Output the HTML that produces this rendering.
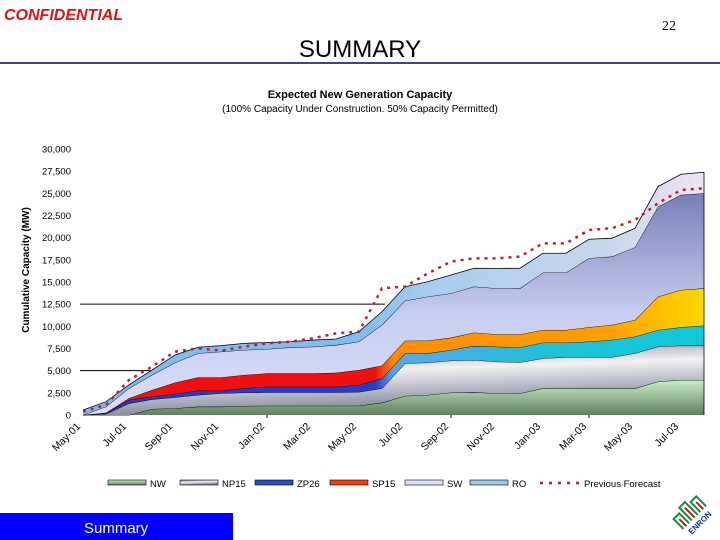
<!DOCTYPE html>
<html><head><meta charset="utf-8"><style>
body{margin:0;width:720px;height:540px;background:#fff;position:relative;overflow:hidden;font-family:"Liberation Sans",sans-serif}
</style></head><body>
<svg width="720" height="540" style="position:absolute;left:0;top:0">
<defs>
<linearGradient id="gNW" x1="0" y1="0" x2="0" y2="1"><stop offset="0" stop-color="#c8f0c8"/><stop offset="1" stop-color="#5f7f5f"/></linearGradient>
<linearGradient id="gNP" x1="0" y1="0" x2="0.3" y2="1"><stop offset="0" stop-color="#6a7088"/><stop offset="0.45" stop-color="#f2f2f2"/><stop offset="1" stop-color="#7a8098"/></linearGradient>
<linearGradient id="gZP" gradientUnits="userSpaceOnUse" x1="83" y1="0" x2="704" y2="0"><stop offset="0.47" stop-color="#2a3ac8"/><stop offset="0.5" stop-color="#58a8e8"/><stop offset="0.75" stop-color="#20c0d8"/><stop offset="1" stop-color="#10c8d8"/></linearGradient>
<linearGradient id="gSP" gradientUnits="userSpaceOnUse" x1="83" y1="0" x2="704" y2="0"><stop offset="0.47" stop-color="#f01010"/><stop offset="0.5" stop-color="#ff8c00"/><stop offset="0.85" stop-color="#ffa000"/><stop offset="1" stop-color="#ffd800"/></linearGradient>
<linearGradient id="gSW" x1="0" y1="0" x2="0" y2="1"><stop offset="0" stop-color="#7880b8"/><stop offset="0.55" stop-color="#c8cef0"/><stop offset="1" stop-color="#d8def8"/></linearGradient>
<linearGradient id="gRO" gradientUnits="userSpaceOnUse" x1="83" y1="0" x2="704" y2="0"><stop offset="0.45" stop-color="#80bcf0"/><stop offset="0.55" stop-color="#a8ccf0"/><stop offset="0.85" stop-color="#c8d8ec"/><stop offset="1" stop-color="#f0e4f4"/></linearGradient>
</defs>
<text x="4" y="20" fill="#e01010" font-size="16" font-weight="bold" font-style="italic">CONFIDENTIAL</text>
<text x="662" y="30" fill="#000" font-size="14" font-family="Liberation Serif">22</text>
<text x="360" y="57" text-anchor="middle" font-size="24">SUMMARY</text>
<rect x="0" y="62" width="720" height="2" fill="#40409a"/>
<text x="360" y="98" text-anchor="middle" font-size="11" font-weight="bold">Expected New Generation Capacity</text>
<text x="360" y="112" text-anchor="middle" font-size="10">(100% Capacity Under Construction. 50% Capacity Permitted)</text>
<text transform="translate(29,270) rotate(-90)" text-anchor="middle" font-size="10" font-weight="bold">Cumulative Capacity (MW)</text>
<g id="chart"></g>
<g id="legend"></g>
<rect x="0" y="513" width="233" height="27" fill="#0000ff"/>
<text x="84" y="533" fill="#fff" font-size="15">Summary</text>
<g transform="translate(692,512) rotate(-45)">
<path d="M-18,6 L-18,-8 L-10,-8 L-10,6 M-6,6 L-6,-12 L2,-12 L2,6 M6,6 L6,-8 L14,-8 L14,6" fill="none" stroke="#1c8a3a" stroke-width="2"/>
<path d="M-14,6 L-14,-4 M-2,6 L-2,-8 M10,6 L10,-4" fill="none" stroke="#c01818" stroke-width="2"/>
<text x="-2" y="16" text-anchor="middle" font-size="8" font-weight="bold" fill="#1030b0">ENRON</text>
</g>
</svg>
<script>
const months=["May-01","Jun-01","Jul-01","Aug-01","Sep-01","Oct-01","Nov-01","Dec-01","Jan-02","Feb-02","Mar-02","Apr-02","May-02","Jun-02","Jul-02","Aug-02","Sep-02","Oct-02","Nov-02","Dec-02","Jan-03","Feb-03","Mar-03","Apr-03","May-03","Jun-03","Jul-03","Aug-03"];
const yTicks=[0,2500,5000,7500,10000,12500,15000,17500,20000,22500,25000,27500,30000];
const seriesNames=["NW","NP15","ZP26","SP15","SW","RO"];
const nw=[0,0,0,680,750,940,940,1020,1050,1050,1050,1050,1050,1390,2140,2260,2520,2560,2440,2440,3010,3010,3010,3010,3010,3760,3950,3950];
const np15=[0,110,1320,1090,1240,1320,1500,1500,1500,1500,1500,1500,1540,1620,3680,3650,3610,3650,3570,3500,3380,3500,3500,3500,3950,3950,3870,3870];
const zp26=[0,75,380,300,380,490,300,490,640,640,640,640,790,1130,1130,1050,1200,1580,1690,1690,1770,1650,1770,1960,1880,1880,2070,2260];
const sp15=[0,75,190,750,1280,1500,1500,1500,1500,1500,1500,1580,1690,1430,1430,1430,1390,1500,1390,1470,1430,1430,1620,1690,1880,3760,4210,4210];
const sw=[0,680,1130,1690,2260,2710,2900,2820,2740,2930,3010,3120,3200,4590,4510,4960,5000,5190,5190,5190,6470,6470,7780,7710,8200,10150,10720,10720];
const ro=[560,560,380,560,860,680,680,750,750,640,750,680,1130,1500,1580,1690,2070,2070,2260,2260,2180,2180,2140,2070,2140,2260,2330,2370];
const forecast=[380,1130,3950,5450,7140,7520,7260,7710,8080,8270,8650,9210,9400,14290,14480,15980,17300,17670,17670,17860,19360,19360,20870,21060,22000,23880,25380,25570];
const NS="http://www.w3.org/2000/svg";
const X0=83,X1=704,Y0=415,Y1=149,VMAX=30000;
const xs=i=>X0+(X1-X0)*i/(months.length-1);
const ys=v=>Y0-(Y0-Y1)*v/VMAX;
const chart=document.getElementById('chart');
function mk(tag,attrs,parent){const e=document.createElementNS(NS,tag);for(const k in attrs)e.setAttribute(k,attrs[k]);(parent||chart).appendChild(e);return e;}
// y ticks
yTicks.forEach(v=>{
  const t=mk('text',{x:71,y:ys(v)+3.5,'text-anchor':'end','font-size':'9.5'});
  t.textContent=v.toLocaleString('en-US');
  
  
});
// partial gridlines
[5000,12500].forEach(v=>{
  const l=mk('line',{x1:80,x2:385,y1:ys(v),y2:ys(v),stroke:'#000','stroke-width':1});
  
  
});
// stacked areas
const stack=[nw,np15,zp26,sp15,sw,ro];
const fills=["url(#gNW)","url(#gNP)","url(#gZP)","url(#gSP)","url(#gSW)","url(#gRO)"];
let base=months.map(()=>0);
stack.forEach((s,k)=>{
  const top=base.map((b,i)=>b+s[i]);
  let d='M'+months.map((m,i)=>xs(i)+','+ys(top[i])).join(' L');
  for(let i=months.length-1;i>=0;i--)d+=' L'+xs(i)+','+ys(base[i]);
  d+=' Z';
  const p=mk('path',{d:d,fill:fills[k],stroke:'none'});
  
  
  const ln=mk('polyline',{points:months.map((m,i)=>xs(i)+','+ys(top[i])).join(' '),fill:'none',stroke:'#000','stroke-width':0.8});
  
  
  base=top;
});
// right edge
const re=mk('line',{x1:X1,x2:X1,y1:ys(base[base.length-1]),y2:Y0,stroke:'#000','stroke-width':0.8});


// forecast
const fl=mk('polyline',{points:forecast.map((v,i)=>xs(i)+','+ys(v)).join(' '),fill:'none',stroke:'#c0202a','stroke-width':2.5,'stroke-dasharray':'3,5'});


// axis ticks
[8,16,22].forEach(i=>{
  const t=mk('line',{x1:xs(i),x2:xs(i),y1:Y0,y2:Y0+3,stroke:'#000'});
  
  
});
// x labels
months.forEach((m,i)=>{
  if(i%2)return;
  const x=xs(i)-2,y=Y0+12;
  const t=mk('text',{x:x,y:y,'text-anchor':'end','font-size':'10.5',transform:`rotate(-45 ${x} ${y})`});
  t.textContent=m;
  
  
});
// legend
const lg=document.getElementById('legend');
const legFills=["url(#gNW)","url(#gNP)","#2a4ac8","#f04010","#dde2f6","#9cc8f0"];
const legX=[108,180,255,330,405,470];
seriesNames.forEach((n,k)=>{
  const r=mk('rect',{x:legX[k],y:480,width:38,height:5,fill:legFills[k],stroke:'#000','stroke-width':0.6},lg);
  
  
  const t=mk('text',{x:legX[k]+42,y:487,'font-size':'9.5'},lg);
  t.textContent=n;
  
  
});
const fs=mk('line',{x1:540,x2:580,y1:483,y2:483,stroke:'#c0202a','stroke-width':2.5,'stroke-dasharray':'3,6'},lg);


const ft=mk('text',{x:584,y:487,'font-size':'9.5'},lg);
ft.textContent='Previous Forecast';


</script>
</body></html>
